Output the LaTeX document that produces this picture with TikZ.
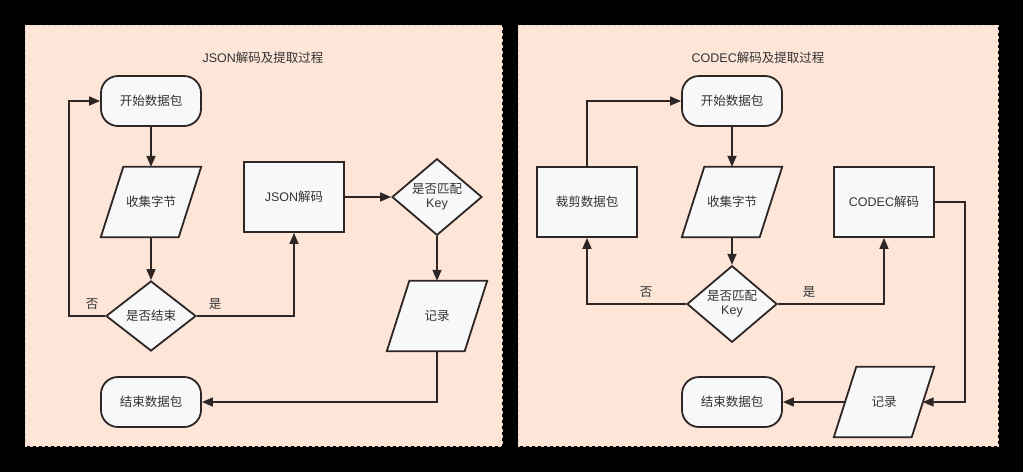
\documentclass[tikz,border=0pt]{standalone}
\usepackage{fontspec}
\setmainfont{Noto Sans CJK SC}
\newfontfamily\latinfont{Liberation Sans}
\newcommand{\lt}[1]{{\latinfont #1}}
\usetikzlibrary{shapes.geometric,arrows.meta,calc}
\definecolor{panelfill}{HTML}{FDE5D8}
\definecolor{panelline}{HTML}{EFCDBB}
\definecolor{nodefill}{HTML}{F7F8FA}
\definecolor{inkline}{HTML}{2E2624}
\definecolor{txt}{HTML}{333333}
\begin{document}
\begin{tikzpicture}[x=1pt,y=-1pt,
  every node/.style={font=\fontsize{12.5}{15}\selectfont, text=txt},
  panel/.style={fill=panelfill, draw=panelline, dashed, line width=1pt},
  term/.style={draw=inkline, fill=nodefill, line width=1.8pt, rounded corners=17pt, minimum width=100pt, minimum height=50pt, inner sep=0pt},
  procbox/.style={draw=inkline, fill=nodefill, line width=1.8pt, minimum width=100pt, minimum height=70pt, inner sep=0pt},
  decide/.style={diamond, draw=inkline, fill=nodefill, line width=1.8pt, minimum width=90pt, minimum height=70pt, inner sep=0pt, align=center, font=\fontsize{12.5}{14}\selectfont},
  para/.style={minimum width=100pt, minimum height=70pt, inner sep=0pt},
  arr/.style={draw=inkline, line width=1.6pt, -{Triangle[length=11pt,width=9pt]}},
  lbl/.style={inner sep=0pt}
]
\useasboundingbox (0,0) rectangle (1023,472);
\fill[black] (0,0) rectangle (1023,472);
\newcommand{\parashape}[1]{%
  \draw[draw=inkline, fill=nodefill, line width=1.8pt, line join=miter]
    (#1.south west) -- ($(#1.north west)+(22.5,0)$) -- (#1.north east)
    -- ($(#1.south east)+(-22.5,0)$) -- cycle;}
% panels
\draw[panel] (25,25) rectangle (502,446);
\draw[panel] (518,25) rectangle (998,446);
\node (t1) at (263,58) {\lt{JSON}解码及提取过程};
\node (t2) at (758,58) {\lt{CODEC}解码及提取过程};
% ---------- left ----------
\node[term] (s1) at (151,101) {开始数据包};
\node[para] (c1) at (151,202) {};
\parashape{c1}
\node at (c1) {收集字节};
\node[decide] (d1) at (151,316) {是否结束};
\node[procbox] (j1) at (294,197) {\lt{JSON}解码};
\node[decide] (k1) at (437,197) {是否匹配\\\lt{Key}};
\node[para] (r1) at (437,316) {};
\parashape{r1}
\node at (r1) {记录};
\node[term] (e1) at (151,402) {结束数据包};
\draw[arr] (s1) -- (c1);
\draw[arr] (c1) -- (d1);
\draw[arr] (d1.west) -- ++(-36,0) |- (s1.west);
\draw[arr] (d1.east) -| (j1.south);
\draw[arr] (j1.east) -- (k1.west);
\draw[arr] (k1.south) -- (r1.north);
\draw[arr] (r1.south) |- (e1.east);
\node[lbl] (n1) at (92,304) {否};
\node[lbl] (y1) at (215,304) {是};
% ---------- right ----------
\node[term] (s2) at (732,101) {开始数据包};
\node[para] (c2) at (732,202) {};
\parashape{c2}
\node at (c2) {收集字节};
\node[procbox] (cut) at (587,202) {裁剪数据包};
\node[procbox] (cod) at (884,202) {\lt{CODEC}解码};
\node[decide] (k2) at (732,304) {是否匹配\\\lt{Key}};
\node[term] (e2) at (732,402) {结束数据包};
\node[para] (r2) at (884,402) {};
\parashape{r2}
\node at (r2) {记录};
\draw[arr] (cut.north) |- (s2.west);
\draw[arr] (s2) -- (c2);
\draw[arr] (c2) -- (k2);
\draw[arr] (k2.west) -| (cut.south);
\draw[arr] (k2.east) -| (cod.south);
\draw[arr] (cod.east) -- ++(30,0) |- ($(r2.east)+(-11.5,0)$);
\draw[arr] ($(r2.west)+(11.5,0)$) -- (e2.east);
\node[lbl] (n2) at (646,292) {否};
\node[lbl] (y2) at (809,292) {是};
\end{tikzpicture}
\end{document}
